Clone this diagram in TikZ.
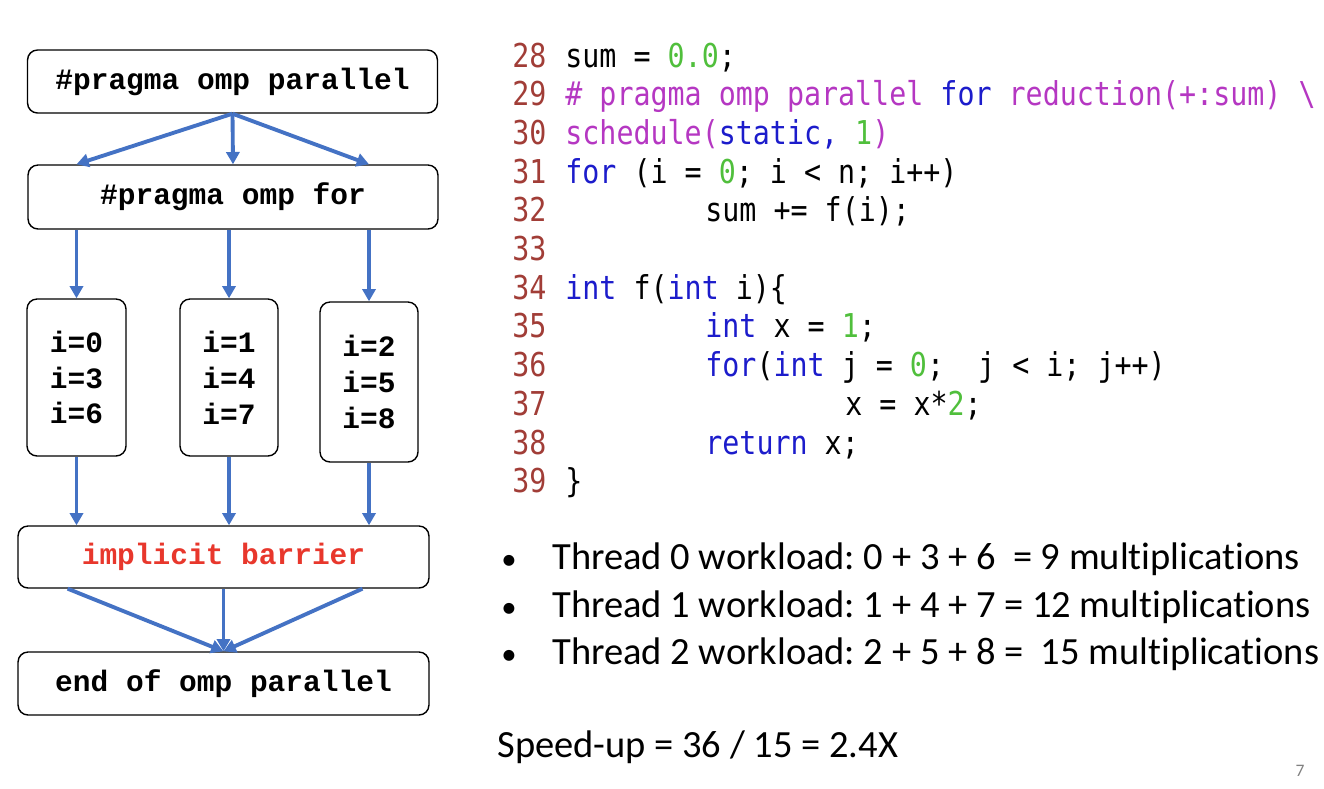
\documentclass[tikz,border=0pt]{standalone}
\usepackage{fontspec}
\usepackage{xcolor}
\usetikzlibrary{arrows.meta,positioning,calc}
\setmainfont{Carlito}[Ligatures=NoCommon]
\newfontfamily\boxfont{Liberation Mono}
\newfontfamily\codefont[FakeStretch=0.862]{DejaVu Sans Mono}
\frenchspacing

\definecolor{arrowblue}{HTML}{4472C4}
\definecolor{barred}{HTML}{E8372C}
\definecolor{lnred}{HTML}{A13D37}
\definecolor{kwblue}{HTML}{1C1CCB}
\definecolor{prgmag}{HTML}{B537C2}
\definecolor{litgreen}{HTML}{50BF3C}

\newcommand{\kwd}[1]{\textcolor{kwblue}{#1}}
\newcommand{\prg}[1]{\textcolor{prgmag}{#1}}
\newcommand{\lit}[1]{\textcolor{litgreen}{#1}}
\newcommand{\bul}{\makebox[29pt][l]{\scalebox{0.8}{\textbullet}}}

\tikzset{
  block/.style={draw, rounded corners=0.2cm, line width=0.8pt, inner sep=0pt, align=center,
    font=\boxfont\bfseries\fontsize{16.8}{20.4}\selectfont},
  flow/.style={draw=arrowblue, line width=2.2pt, -{Triangle[length=7pt,width=7.5pt]}},
  lnum/.style={anchor=base west, inner sep=0pt, text=lnred, font=\codefont\fontsize{18.7}{22}\selectfont},
  codeline/.style={anchor=base west, inner sep=0pt, font=\codefont\fontsize{18.7}{22}\selectfont},
  bulletline/.style={anchor=base west, inner sep=0pt, font=\fontsize{21.9}{26}\selectfont}
}

\begin{document}
\begin{tikzpicture}[x=0.02cm, y=-0.02cm]
    \useasboundingbox (0,0) rectangle (1324,788);

    % Fork / join chart
    \node[block, minimum width=8.2cm, minimum height=1.26cm] (parbox) at (232.5,81.5) {\#pragma omp parallel};
    \node[block, minimum width=8.2cm, minimum height=1.28cm] (forbox) at (233,197) {\#pragma omp for};
    \node[block, minimum width=1.98cm, minimum height=3.14cm] (th0) at (76.5,377.5) {i=0\\i=3\\i=6};
    \node[block, minimum width=1.96cm, minimum height=3.14cm] (th1) at (229,377.5) {i=1\\i=4\\i=7};
    \node[block, minimum width=1.96cm, minimum height=3.2cm] (th2) at (369,382) {i=2\\i=5\\i=8};
    \node[block, minimum width=8.22cm, minimum height=1.24cm, text=barred] (barrier) at (223.5,557) {implicit barrier};
    \node[block, minimum width=8.22cm, minimum height=1.26cm] (endbox) at (223.5,683.5) {end of omp parallel};

    % Arrows
    \draw[flow] (parbox.south) -- (th0 |- forbox.north);
    \draw[flow] (parbox.south) -- (forbox.north);
    \draw[flow] (parbox.south) -- (th2 |- forbox.north);
    \foreach \t in {th0,th1,th2}
        \draw[flow] (forbox.south -| \t) -- (\t.north);
    \foreach \t in {th0,th1,th2}
        \draw[flow] (\t.south) -- (\t.south |- barrier.north);
    \draw[flow] ($(barrier.south west)!0.122!(barrier.south east)$) -- (endbox.north);
    \draw[flow] (barrier.south) -- (endbox.north);
    \draw[flow] ($(barrier.south west)!0.837!(barrier.south east)$) -- (endbox.north);

    % Code listing
    \foreach \n [count=\k from 0] in {28,...,39}
        \node[lnum] (ln\n) at (512,67+38.7*\k) {\n};
    \node[codeline] (c28) at (565,67) {sum = \lit{0.0};};
    \node[codeline] (c29) at (565,105.7) {\prg{\# pragma omp parallel} \kwd{for} \prg{reduction(+:sum) \textbackslash}};
    \node[codeline] (c30) at (565,144.4) {\prg{schedule(}\kwd{static,} \lit{1}\prg{)}};
    \node[codeline] (c31) at (565,183.1) {\kwd{for} (i = \lit{0}; i < n; i++)};
    \node[codeline] (c32) at (705,221.8) {sum += f(i);};
    \node[codeline] (c34) at (565,299.2) {\kwd{int} f(\kwd{int} i)\{};
    \node[codeline] (c35) at (705,337.9) {\kwd{int} x = \lit{1};};
    \node[codeline] (c36) at (705,376.6) {\kwd{for}(\kwd{int} j = \lit{0};~ j < i; j++)};
    \node[codeline] (c37) at (845,415.3) {x = x*\lit{2};};
    \node[codeline] (c38) at (705,454) {\kwd{return} x;};
    \node[codeline] (c39) at (565,492.7) {\}};

    % Workload summary
    \node[bulletline] (w0) at (501,569) {\bul Thread 0 workload: 0 + 3 + 6~ = 9 multiplications};
    \node[bulletline] (w1) at (501,617) {\bul Thread 1 workload: 1 + 4 + 7 = 12 multiplications};
    \node[bulletline] (w2) at (501,664) {\bul Thread 2 workload: 2 + 5 + 8 =~ 15 multiplications};
    \node[bulletline] (speedup) at (497,757) {Speed-up = 36 / 15 = 2.4X};

    \node[text=gray, font=\fontsize{10}{12}\selectfont] (pagenum) at (1300,771) {7};
\end{tikzpicture}
\end{document}
